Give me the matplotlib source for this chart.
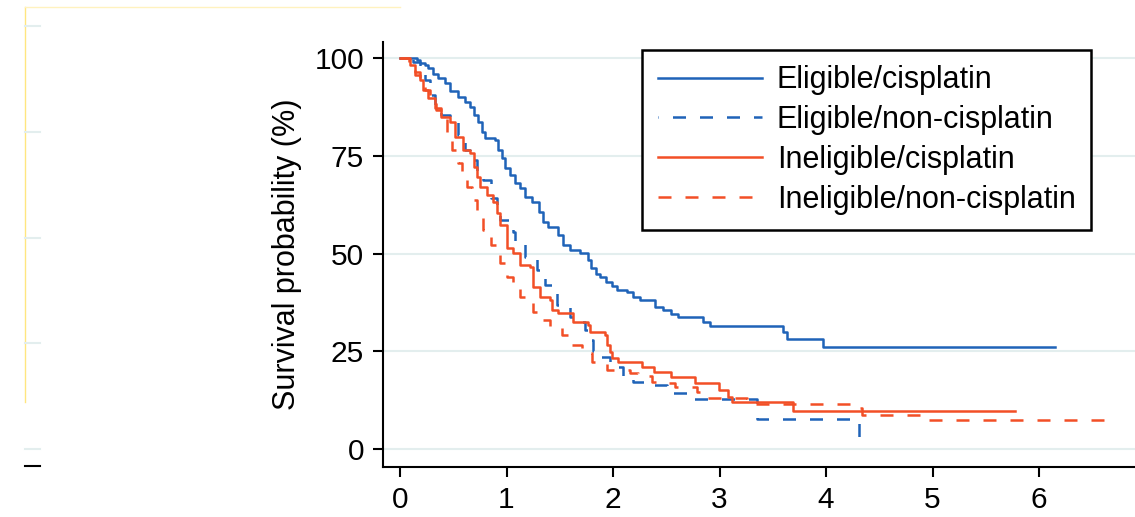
import numpy as np
import matplotlib.pyplot as plt
from matplotlib.lines import Line2D

plt.rcParams['font.family'] = ['Liberation Sans', 'DejaVu Sans']

#######################################################
# Kaplan-Meier steps (years, %)
Elig_Cis_T = [0, 0.16, 0.19, 0.23, 0.26, 0.31, 0.36, 0.42, 0.47, 0.54, 0.61, 0.66, 0.69, 0.73,
              0.77, 0.80, 0.89, 0.92, 0.96, 0.99, 1.03, 1.08, 1.13, 1.17, 1.24, 1.30, 1.34, 1.39,
              1.48, 1.53, 1.60, 1.69, 1.76, 1.79, 1.84, 1.88, 1.93, 1.99, 2.04, 2.13, 2.19, 2.25,
              2.39, 2.47, 2.54, 2.61, 2.84, 2.91, 3.60, 3.63, 3.97]
Elig_Cis_S = [100, 99.5, 98.7, 98.2, 97.4, 95.9, 94.9, 93.6, 91.6, 90.0, 88.7, 87.5, 85.4, 83.6,
              81.1, 79.5, 79.0, 76.5, 74.4, 71.9, 70.1, 68.0, 66.8, 64.5, 63.2, 60.6, 58.1, 56.8,
              54.7, 52.2, 50.9, 50.1, 48.3, 46.3, 44.8, 44.0, 42.7, 41.7, 40.7, 40.2, 38.9, 38.1,
              36.3, 35.5, 34.5, 33.8, 32.5, 31.5, 29.9, 28.1, 26.1]
Elig_Cis_End = 6.15

Elig_Non_T = [0, 0.12, 0.19, 0.23, 0.28, 0.33, 0.38, 0.47, 0.54, 0.61, 0.66, 0.72, 0.78, 0.85,
              0.91, 0.94, 1.06, 1.08, 1.17, 1.29, 1.36, 1.47, 1.60, 1.66, 1.74, 1.76, 1.81, 1.86,
              1.97, 2.04, 2.09, 2.19, 2.33, 2.51, 2.72, 3.35, 4.31]
Elig_Non_S = [100, 99.0, 96.9, 94.4, 90.5, 86.7, 85.4, 83.6, 80.3, 76.5, 73.9, 70.8, 68.8, 64.2,
              61.6, 58.6, 55.5, 52.7, 49.1, 45.8, 41.9, 36.8, 33.8, 32.5, 30.4, 27.9, 25.1, 23.5,
              22.0, 21.0, 18.2, 17.1, 16.4, 14.3, 12.8, 7.7, 3.1]
Elig_Non_End = 4.31

Inel_Cis_T = [0, 0.09, 0.14, 0.19, 0.22, 0.26, 0.33, 0.38, 0.47, 0.52, 0.59, 0.66, 0.69, 0.72,
              0.75, 0.82, 0.87, 0.91, 0.94, 1.00, 1.06, 1.13, 1.22, 1.25, 1.31, 1.41, 1.43, 1.48,
              1.62, 1.76, 1.78, 1.92, 1.94, 1.97, 1.99, 2.05, 2.27, 2.38, 2.54, 2.77, 2.99, 3.08,
              3.12, 3.69]
Inel_Cis_S = [100, 98.2, 96.4, 94.4, 91.8, 89.8, 87.2, 84.9, 83.6, 79.8, 76.5, 75.7, 72.1, 69.6,
              67.0, 65.0, 63.2, 60.4, 57.3, 51.4, 50.1, 47.1, 46.5, 41.4, 38.9, 38.1, 35.5, 34.8,
              32.5, 31.7, 29.9, 29.2, 26.6, 24.8, 23.3, 22.3, 21.0, 19.7, 18.4, 16.9, 15.1, 13.3,
              12.0, 9.7]
Inel_Cis_End = 5.77

Inel_Non_T = [0, 0.08, 0.14, 0.19, 0.23, 0.28, 0.34, 0.39, 0.44, 0.49, 0.54, 0.58, 0.63, 0.68,
              0.72, 0.78, 0.85, 0.94, 1.00, 1.06, 1.13, 1.19, 1.25, 1.31, 1.41, 1.52, 1.60, 1.71,
              1.80, 1.94, 2.16, 2.23, 2.37, 2.46, 2.58, 2.79, 2.85, 3.26, 4.29, 4.34, 4.95]
Inel_Non_S = [100, 98.7, 95.7, 93.9, 91.8, 89.3, 86.7, 84.9, 79.8, 76.5, 73.1, 70.1, 67.0, 63.7,
              60.4, 56.0, 52.2, 47.6, 44.0, 41.4, 38.9, 37.3, 35.0, 33.0, 31.2, 29.2, 26.6, 24.6,
              22.3, 20.2, 19.4, 18.7, 17.1, 16.9, 15.9, 14.6, 13.0, 11.5, 10.5, 8.7, 7.4]
Inel_Non_End = 6.65

Labels = ['Eligible/cisplatin', 'Eligible/non-cisplatin',
          'Ineligible/cisplatin', 'Ineligible/non-cisplatin']
Y_Ticks = [0, 25, 50, 75, 100]
X_Ticks = [0, 1, 2, 3, 4, 5, 6]
#######################################################

Blue = '#1f63b8'
Red = '#f24f26'
Grid_Colour = '#e3eeee'
Dash = (5.2, 5.6)

fig = plt.figure(figsize=(11.35, 5.17), dpi=100)

#bits of the neighbouring (cropped) panel on the left
W, H = 1135.0, 517.0
fig.add_artist(Line2D([25/W, 25/W], [1-7/H, 1-402/H], color='#ffe680', lw=1.0))
fig.add_artist(Line2D([25/W, 400/W], [1-7/H, 1-7/H], color='#fff2bf', lw=1.0))
for py in [26, 132, 238, 343, 449]:
    fig.add_artist(Line2D([25/W, 40/W], [1-py/H, 1-py/H], color=Grid_Colour, lw=1.5))
fig.add_artist(Line2D([25/W, 40/W], [1-466/H, 1-466/H], color='black', lw=1.5))

ax = fig.add_axes([383/W, 50/H, 752/W, 425/H])

Series = [(Elig_Cis_T, Elig_Cis_S, Elig_Cis_End, Blue, None),
          (Elig_Non_T, Elig_Non_S, Elig_Non_End, Blue, 5.0),
          (Inel_Cis_T, Inel_Cis_S, Inel_Cis_End, Red, None),
          (Inel_Non_T, Inel_Non_S, Inel_Non_End, Red, 0.0)]

for (T, S, End, Col, Offset), Lab in zip(Series, Labels):
    T_Plot = list(T) + [End]
    S_Plot = list(S) + [S[-1]]
    line, = ax.step(T_Plot, S_Plot, where='post', color=Col, lw=1.8, label=Lab)
    if Offset is not None:
        line.set_linestyle((Offset, Dash))

for yv in Y_Ticks:
    ax.axhline(yv, color=Grid_Colour, lw=1.5, zorder=0)

ax.set_xlim(-0.16, 6.90)
ax.set_ylim(-4.6, 104.1)
ax.set_xticks(X_Ticks)
ax.set_yticks(Y_Ticks)
ax.set_yticklabels([str(v) for v in Y_Ticks])
ax.spines['top'].set_visible(False)
ax.spines['right'].set_visible(False)
ax.spines['left'].set_linewidth(1.5)
ax.spines['bottom'].set_linewidth(1.5)
ax.tick_params(direction='out', length=7.5, width=1.5, labelsize=21.5, pad=6)
ax.set_ylabel('Survival probability (%)', fontsize=22, labelpad=9)

leg = ax.legend(loc='upper right', bbox_to_anchor=(1091/W, 1-50/H),
                bbox_transform=fig.transFigure, fontsize=22, frameon=True,
                fancybox=False, shadow=False, framealpha=1, edgecolor='black',
                handlelength=3.4, handletextpad=0.5, labelspacing=0.32,
                borderpad=0.5, borderaxespad=0)
leg.get_frame().set_linewidth(1.8)

plt.savefig('out.png', dpi=100)
